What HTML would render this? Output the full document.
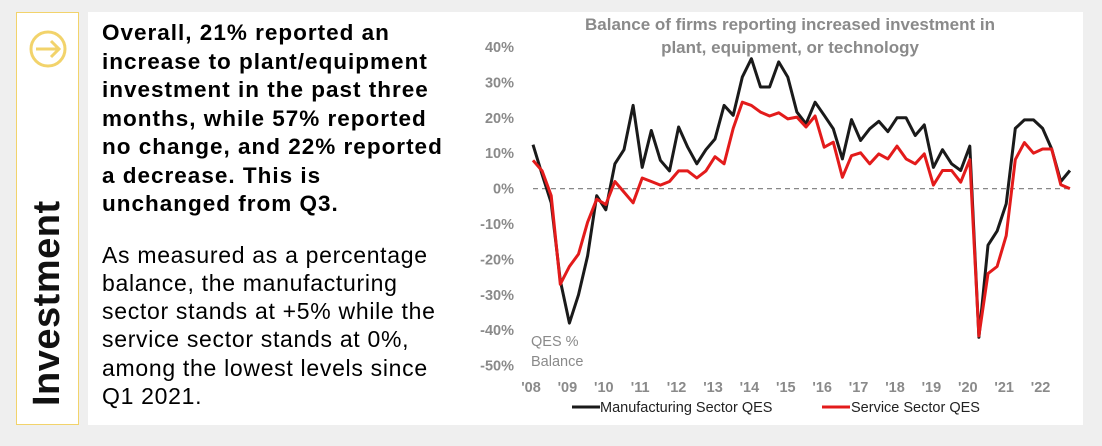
<!DOCTYPE html>
<html><head><meta charset="utf-8"><style>
body{margin:0;width:1102px;height:446px;background:#efefef;font-family:"Liberation Sans",sans-serif;position:relative;overflow:hidden}
#side{position:absolute;left:16px;top:12px;width:61px;height:411px;border:1px solid #f2d36b;background:#fff}
#panel{position:absolute;left:88px;top:12px;width:995px;height:413px;background:#fff}
#vt{position:absolute;left:26px;top:406px;line-height:42px;transform-origin:0 0;transform:rotate(-90deg);font-weight:bold;font-size:38px;color:#111;white-space:nowrap;letter-spacing:0.5px}
#txt{position:absolute;left:102px;top:19px;color:#000;white-space:nowrap}
.b{font-weight:bold;font-size:22.5px;line-height:28.5px;margin:0;letter-spacing:1px}
.r{font-size:23px;line-height:28.3px;margin:22px 0 0;letter-spacing:0.7px}
svg{position:absolute;left:0;top:0}
</style></head><body>
<div id="side"></div>
<svg width="1102" height="446"><circle cx="48" cy="49" r="17" fill="none" stroke="#f2d36b" stroke-width="3"/><path d="M36 49H59M51 41L59 49L51 57" fill="none" stroke="#f2d36b" stroke-width="3"/></svg>
<div id="vt">Investment</div>
<div id="panel"></div>
<div id="txt">
<p class="b">Overall, 21% reported an<br>increase to plant/equipment<br>investment in the past three<br>months, while 57% reported<br>no change, and 22% reported<br>a decrease. This is<br>unchanged from Q3.</p>
<p class="r">As measured as a percentage<br>balance, the manufacturing<br>sector stands at +5% while the<br>service sector stands at 0%,<br>among the lowest levels since<br>Q1 2021.</p>
</div>
<svg id="chart" width="1102" height="446"></svg>
<script>
const manufacturing=[12.4,4,-4,-26,-38,-30,-19,-2,-6,7,11,23.5,6,16.4,8,5,17.4,11.7,7,11,14,23.5,20.7,31.5,36.7,28.7,28.7,35.8,31.5,21.6,18.3,24.4,20.7,16.9,8.4,19.5,13.6,16.9,19,16.1,20,20,15,18,6,11,7,5.1,12,-42,-16,-12,-4.3,17,19.4,19.4,17,11.2,2,5.1];
const service=[8,5,-2,-27,-22,-18.5,-9.5,-3,-4.5,2,-1,-4,3,2,1,2,5,5,3,5,9,7,17,24.4,23.5,21.6,20.5,21.4,19.7,20.2,17.4,20.5,11.7,13.1,3.2,9.3,10.1,7,9.8,8.4,12,8.4,7,9.8,1,5.1,5.1,1.8,8.2,-41.6,-24,-22,-13.3,8.2,13,10,11.2,11.2,1.1,0];
const yTicks=[40,30,20,10,0,-10,-20,-30,-40,-50];
const yearLabels=["'08","'09","'10","'11","'12","'13","'14","'15","'16","'17","'18","'19","'20","'21","'22"];
const svg=document.getElementById('chart');const NS='http://www.w3.org/2000/svg';
const X=i=>533+i*9.1, Y=v=>188.6-v*3.54;
function mk(t,a,txt){const e=document.createElementNS(NS,t);for(const k in a)e.setAttribute(k,a[k]);if(txt!=null)e.textContent=txt;svg.appendChild(e);return e;}
let e;
e=mk('text',{x:790,y:30,'text-anchor':'middle','font-size':'17','font-weight':'bold',fill:'#8a8a8a'},'Balance of firms reporting increased investment in');


e=mk('text',{x:790,y:53,'text-anchor':'middle','font-size':'17','font-weight':'bold',fill:'#8a8a8a'},'plant, equipment, or technology');


yTicks.forEach(v=>{e=mk('text',{x:514,y:Y(v)+5,'text-anchor':'end','font-size':'14.5','font-weight':'bold',fill:'#8a8a8a'},v+'%');

});
yearLabels.forEach((l,k)=>{e=mk('text',{x:X(k*4)-2,y:392,'text-anchor':'middle','font-size':'14.5','font-weight':'bold',fill:'#8a8a8a'},l);

});
e=mk('line',{x1:533,x2:1072,y1:Y(0),y2:Y(0),stroke:'#888','stroke-width':1.3,'stroke-dasharray':'5,4'});


e=mk('text',{x:531,y:346,'font-size':'14.5',fill:'#8a8a8a'},'QES %');


e=mk('text',{x:531,y:366,'font-size':'14.5',fill:'#8a8a8a'},'Balance');


function line(d,c,n){const p=d.map((v,i)=>(i?'L':'M')+X(i).toFixed(1)+' '+Y(v).toFixed(1)).join('');const el=mk('path',{d:p,fill:'none',stroke:c,'stroke-width':3,'stroke-linejoin':'round'});

}
line(manufacturing,'#1a1a1a','manufacturing-line');
line(service,'#e31b1b','service-line');
e=mk('line',{x1:572,x2:600,y1:407,y2:407,stroke:'#1a1a1a','stroke-width':3});


e=mk('text',{x:600,y:412,'font-size':'14.5',fill:'#222'},'Manufacturing Sector QES');


e=mk('line',{x1:822,x2:850,y1:407,y2:407,stroke:'#e31b1b','stroke-width':3});


e=mk('text',{x:851,y:412,'font-size':'14.5',fill:'#222'},'Service Sector QES');


</script>
</body></html>
